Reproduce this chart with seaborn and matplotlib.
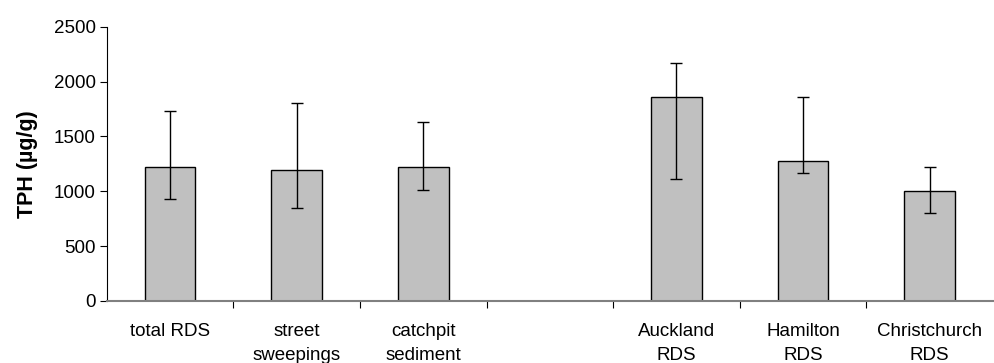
import numpy as np
import pandas as pd
import seaborn as sns
import matplotlib.pyplot as plt
from matplotlib.ticker import FixedLocator

# values
categories = ["total RDS", "street\nsweepings", "catchpit\nsediment", " ",
              "Auckland\nRDS", "Hamilton\nRDS", "Christchurch\nRDS"]
tph_mean = [1224, 1194, 1224, np.nan, 1860, 1276, 1000]
err_high = [1735, 1802, 1635, np.nan, 2167, 1860, 1224]
err_low = [930, 848, 1015, np.nan, 1109, 1167, 805]

df = pd.DataFrame({"sample": categories, "tph": tph_mean})
df = df.dropna()

sns.set_theme(style="white")
plt.rcParams['font.family'] = ['Liberation Sans', 'DejaVu Sans']
plt.rcParams['text.color'] = 'black'
plt.rcParams['axes.labelcolor'] = 'black'
plt.rcParams['xtick.color'] = 'black'
plt.rcParams['ytick.color'] = 'black'

fig = plt.figure(figsize=(9.94, 3.63), dpi=100)
ax = fig.add_axes([0.1073, 0.1708, 0.8917, 0.7556])

sns.barplot(data=df, x="sample", y="tph", order=categories, color="#c0c0c0",
            saturation=1, width=0.4, edgecolor="black", linewidth=1.0,
            errorbar=None, ax=ax)

# asymmetric error bars, placed on the barplot's category positions
mean = np.array(tph_mean, dtype=float)
lo = mean - np.array(err_low, dtype=float)
hi = np.array(err_high, dtype=float) - mean
xpos = np.arange(len(categories))
ax.errorbar(xpos, mean, yerr=[lo, hi], fmt="none", ecolor="black",
            elinewidth=1.0, capsize=4, capthick=1.0)

ax.set_xlim(-0.5, len(categories) - 0.5)
ax.set_ylim(0, 2500)
ax.set_yticks(range(0, 2501, 500))
ax.tick_params(axis="y", length=5, width=0.8, color="black", left=True,
               labelsize=13.5, pad=3)

# category labels centred, tick marks between categories
ax.set_xticks(xpos)
ax.set_xticklabels(categories, fontsize=13.5, linespacing=1.55)
ax.tick_params(axis="x", which="major", length=0, pad=16)
ax.xaxis.set_minor_locator(FixedLocator(np.arange(0.5, len(categories) - 0.5, 1)))
ax.tick_params(axis="x", which="minor", length=5, width=0.8, color="black",
               bottom=True)

sns.despine(ax=ax, top=True, right=True)
ax.spines["left"].set_color("black")
ax.spines["left"].set_linewidth(0.8)
ax.spines["bottom"].set_color("#808080")
ax.spines["bottom"].set_linewidth(1.5)

ax.set_xlabel("")
ax.set_ylabel("TPH (µg/g)", fontsize=15.5, fontweight="bold", labelpad=11)

fig.savefig("out.png", dpi=100)
